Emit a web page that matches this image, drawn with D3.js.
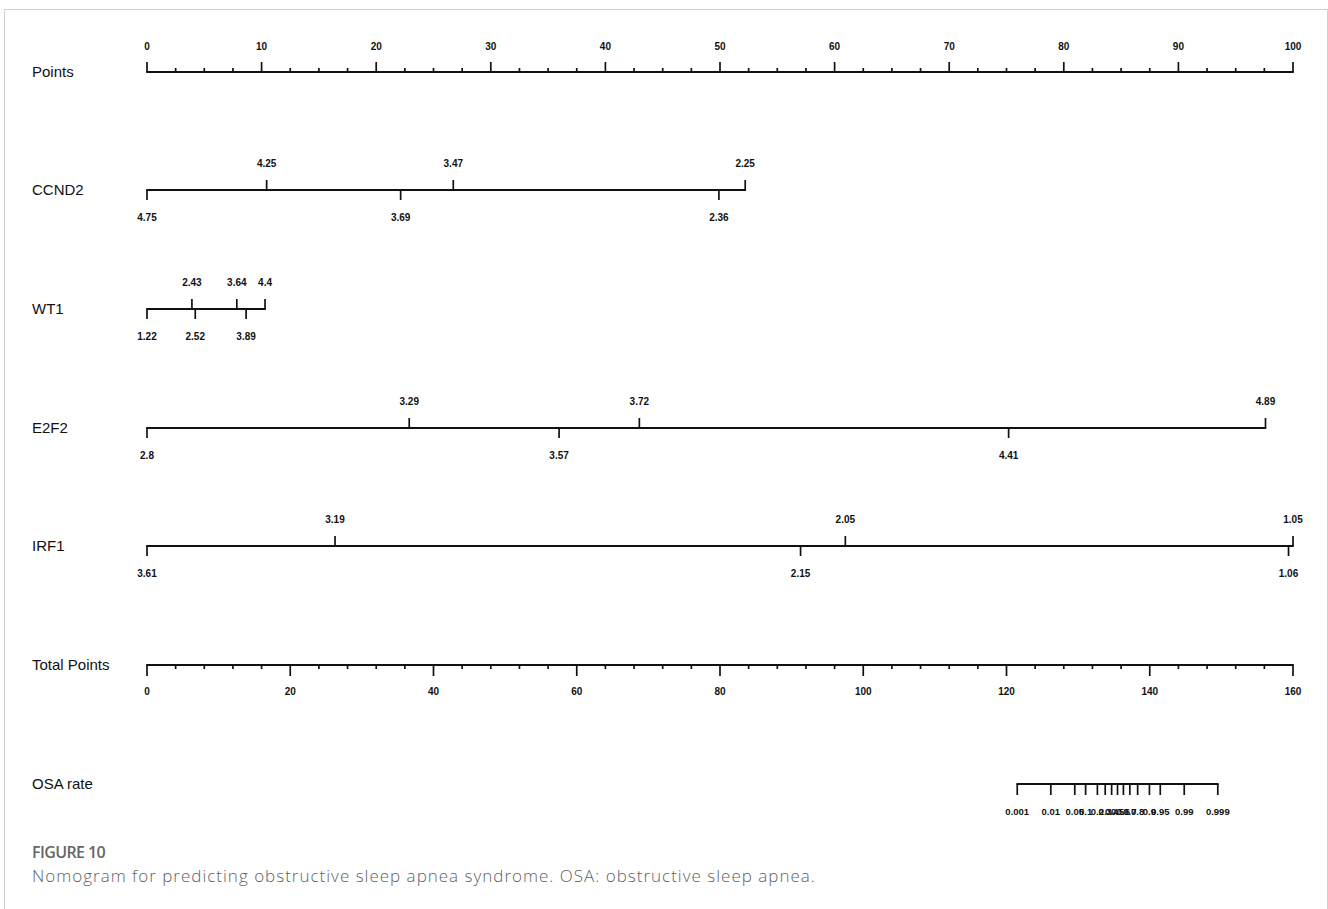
<!DOCTYPE html>
<html>
<head>
<meta charset="utf-8">
<script src="https://cdn.jsdelivr.net/npm/d3@7"></script>
<style>
  body { margin: 0; background: #fff; }
  .rowlab { font-family: "Liberation Sans", Arial, sans-serif; font-size: 15px; fill: #111; }
  .ticklab { font-family: "Liberation Sans", Arial, sans-serif; font-size: 10px; font-weight: bold; fill: #111; }
  .cap1 { font-family: "Open Sans", sans-serif; font-size: 16px; font-weight: 600; fill: #666; letter-spacing: -0.6px; }
  .cap2 { font-family: "Open Sans", sans-serif; font-size: 17px; font-weight: 300; fill: #5f5f5f; letter-spacing: 1px; }
</style>
</head>
<body>
<div id="chart"></div>
<script>
// predictor rows: value at 0 points, value at end of line, and points reached at end
var rowNames = ["CCND2", "WT1", "E2F2", "IRF1"];
var rowStart = [4.75, 1.22, 2.8, 3.61];
var rowEnd = [2.25, 4.4, 4.89, 1.05];
var rowMaxPoints = [52.2, 10.3, 97.6, 100];
var ticksAbove = [[4.25, 3.47, 2.25], [2.43, 3.64, 4.4], [3.29, 3.72, 4.89], [3.19, 2.05, 1.05]];
var ticksBelow = [[4.75, 3.69, 2.36], [1.22, 2.52, 3.89], [2.8, 3.57, 4.41], [3.61, 2.15, 1.06]];

var pointsMajor = [0, 10, 20, 30, 40, 50, 60, 70, 80, 90, 100];
var totalMajor = [0, 20, 40, 60, 80, 100, 120, 140, 160];

// OSA rate: probability ticks, and total points where 0.001 and 0.999 fall
var osaTicks = [0.001, 0.01, 0.05, 0.1, 0.2, 0.3, 0.4, 0.5, 0.6, 0.7, 0.8, 0.9, 0.95, 0.99, 0.999];
var osaTotalRange = [121.5, 149.5];

var width = 1328, height = 909;
var left = 147, right = 1293;
var rowY = {points: 72, rows: [190, 309, 428, 546], total: 665, osa: 784};

var svg = d3.select("#chart").append("svg")
    .attr("width", width)
    .attr("height", height);

// frame
svg.append("path")
    .attr("d", "M4.5," + height + "V9.5H1327.5V" + height)
    .attr("fill", "none")
    .attr("stroke", "#d0d0d0")
    .attr("stroke-width", 1);

var x = d3.scaleLinear().domain([0, 100]).range([left, right]);
var xt = d3.scaleLinear().domain([0, 160]).range([left, right]);

function rowLabel(txt, y) {
    svg.append("text").attr("class", "rowlab")
        .attr("x", 32).attr("y", y + 5)
        .text(txt);
}

function hline(x0, x1, y) {
    svg.append("line")
        .attr("x1", x0).attr("x2", x1)
        .attr("y1", y).attr("y2", y)
        .attr("stroke", "#111").attr("stroke-width", 2.2);
}

function ticks(g, xs, y, len) {
    g.selectAll("line.t").data(xs).enter().append("line")
        .attr("x1", function(d) { return d; })
        .attr("x2", function(d) { return d; })
        .attr("y1", y).attr("y2", y + len)
        .attr("stroke", "#111").attr("stroke-width", 1.7);
}

// Points axis
rowLabel("Points", rowY.points);
var gp = svg.append("g");
hline(x(0) - 0.8, x(100) + 0.8, rowY.points);
ticks(gp, pointsMajor.map(x), rowY.points, -10);
ticks(gp, d3.range(2.5, 100, 2.5).filter(function(d) { return d % 10 != 0; }).map(x), rowY.points, -4);
gp.selectAll("text").data(pointsMajor).enter().append("text")
    .attr("class", "ticklab")
    .attr("x", function(d) { return x(d); })
    .attr("y", rowY.points - 22)
    .attr("text-anchor", "middle")
    .text(function(d) { return d; });

// predictor rows
rowNames.forEach(function(name, i) {
    var y = rowY.rows[i];
    var v = d3.scaleLinear().domain([rowStart[i], rowEnd[i]]).range([0, rowMaxPoints[i]]);
    var g = svg.append("g");
    rowLabel(name, y);
    hline(x(0) - 0.8, x(rowMaxPoints[i]) + 0.8, y);
    ticks(g, ticksAbove[i].map(function(d) { return x(v(d)); }), y, -10);
    ticks(g, ticksBelow[i].map(function(d) { return x(v(d)); }), y, 10);
    g.selectAll("text.a").data(ticksAbove[i]).enter().append("text")
        .attr("class", "ticklab")
        .attr("x", function(d) { return x(v(d)); })
        .attr("y", y - 23)
        .attr("text-anchor", "middle")
        .text(function(d) { return d; });
    g.selectAll("text.b").data(ticksBelow[i]).enter().append("text")
        .attr("class", "ticklab")
        .attr("x", function(d) { return x(v(d)); })
        .attr("y", y + 31)
        .attr("text-anchor", "middle")
        .text(function(d) { return d; });
});

// Total Points axis
rowLabel("Total Points", rowY.total);
var gt = svg.append("g");
hline(xt(0) - 0.8, xt(160) + 0.8, rowY.total);
ticks(gt, totalMajor.map(xt), rowY.total, 11);
ticks(gt, d3.range(4, 160, 4).filter(function(d) { return d % 20 != 0; }).map(xt), rowY.total, 4);
gt.selectAll("text").data(totalMajor).enter().append("text")
    .attr("class", "ticklab")
    .attr("x", function(d) { return xt(d); })
    .attr("y", rowY.total + 30)
    .attr("text-anchor", "middle")
    .text(function(d) { return d; });

// OSA rate: logit scale onto total points (labels overlap in the middle, as in the source)
var logit = function(p) { return Math.log(p / (1 - p)); };
var lp = d3.scaleLinear().domain([logit(0.001), logit(0.999)]).range(osaTotalRange);
rowLabel("OSA rate", rowY.osa);
var go = svg.append("g");
hline(xt(lp(logit(0.001))) - 0.8, xt(lp(logit(0.999))) + 0.8, rowY.osa);
ticks(go, osaTicks.map(function(d) { return xt(lp(logit(d))); }), rowY.osa, 11);
go.selectAll("text").data(osaTicks).enter().append("text")
    .attr("class", "ticklab")
    .style("font-size", "9.5px")
    .attr("x", function(d) { return xt(lp(logit(d))); })
    .attr("y", rowY.osa + 31)
    .attr("text-anchor", "middle")
    .text(function(d) { return d; });

// caption
svg.append("text").attr("class", "cap1").attr("x", 32).attr("y", 858).text("FIGURE 10");
svg.append("text").attr("class", "cap2").attr("x", 32).attr("y", 882)
    .text("Nomogram for predicting obstructive sleep apnea syndrome. OSA: obstructive sleep apnea.");
</script>
</body>
</html>
